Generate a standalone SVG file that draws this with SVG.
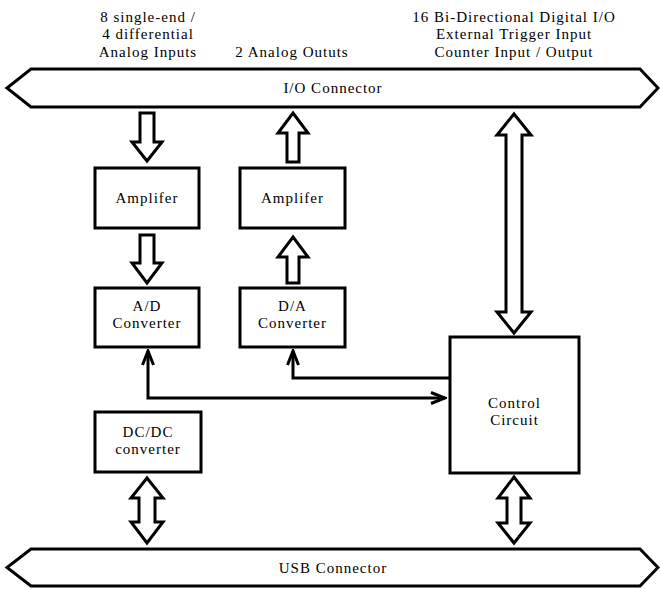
<svg xmlns="http://www.w3.org/2000/svg" width="660" height="589" viewBox="0 0 660 589">
<defs>
<style>
.box{fill:#fff;stroke:#000;stroke-width:3}
.blk{fill:#fff;stroke:#000;stroke-width:3;stroke-linejoin:miter}
.ln{fill:none;stroke:#000;stroke-width:3}
text{font-family:"Liberation Serif","Times New Roman",serif;font-size:15px;letter-spacing:1px;fill:#000;text-anchor:middle}
</style>
<marker id="chev" viewBox="-16 -8 18 16" refX="0" refY="0" markerWidth="18" markerHeight="16" markerUnits="userSpaceOnUse" orient="auto-start-reverse">
<path d="M -14 -5.5 L 0 0 L -14 5.5" fill="none" stroke="#000" stroke-width="3"/>
</marker>
</defs>
<rect width="660" height="589" fill="#fff"/>

<g id="labels">
<text x="148" y="22">8 single-end /</text>
<text x="148" y="39">4 differential</text>
<text x="148" y="57">Analog Inputs</text>
<text x="292" y="57">2 Analog Oututs</text>
<text x="514" y="22">16 Bi-Directional Digital I/O</text>
<text x="514" y="39">External Trigger Input</text>
<text x="514" y="57">Counter Input / Output</text>
</g>

<g id="io-connector">
<polygon class="box" points="31,69 640,69 658,88 640,107 31,107 7,88"/>
<text x="333" y="93">I/O Connector</text>
</g>

<g id="usb-connector">
<polygon class="box" points="31,549 640,549 658,567.5 640,586 31,586 7,567.5"/>
<text x="333" y="573">USB Connector</text>
</g>

<g id="amp-in">
<rect class="box" x="95" y="168" width="104" height="60"/>
<text x="147" y="203">Amplifer</text>
</g>
<g id="amp-out">
<rect class="box" x="240" y="168" width="105" height="60"/>
<text x="292.5" y="203">Amplifer</text>
</g>
<g id="adc">
<rect class="box" x="95" y="288" width="104" height="59"/>
<text x="147" y="311">A/D</text>
<text x="147" y="328">Converter</text>
</g>
<g id="dac">
<rect class="box" x="240" y="288" width="105" height="59"/>
<text x="292.5" y="311">D/A</text>
<text x="292.5" y="328">Converter</text>
</g>
<g id="dcdc">
<rect class="box" x="95" y="412" width="106" height="60"/>
<text x="148" y="437">DC/DC</text>
<text x="148" y="454">converter</text>
</g>
<g id="control">
<rect class="box" x="450" y="337" width="129" height="136"/>
<text x="514.5" y="408">Control</text>
<text x="514.5" y="425">Circuit</text>
</g>

<g id="connectors">
<polygon class="blk" points="140,113 154,113 154,142 162,142 147,161 132,142 140,142"/>
<polygon class="blk" points="140,235 154,235 154,263 162,263 147,283 132,263 140,263"/>
<polygon class="blk" points="293,113 308,133 299,133 299,162 287,162 287,133 278,133"/>
<polygon class="blk" points="293,237 308,257 299,257 299,283 287,283 287,257 278,257"/>
<polygon class="blk" points="514,114 531,135 522,135 522,312 531,312 514,333 497,312 506,312 506,135 497,135"/>
<polygon class="blk" points="147,478 163,498 155,498 155,522 163,522 147,543 131,522 139,522 139,498 131,498"/>
<polygon class="blk" points="514,477 530,498 521,498 521,523 530,523 514,543 498,523 507,523 507,498 498,498"/>
<path class="ln" d="M148,351 V398 H445" marker-start="url(#chev)" marker-end="url(#chev)"/>
<path class="ln" d="M450,378 H293 V351" marker-end="url(#chev)"/>
</g>
</svg>
